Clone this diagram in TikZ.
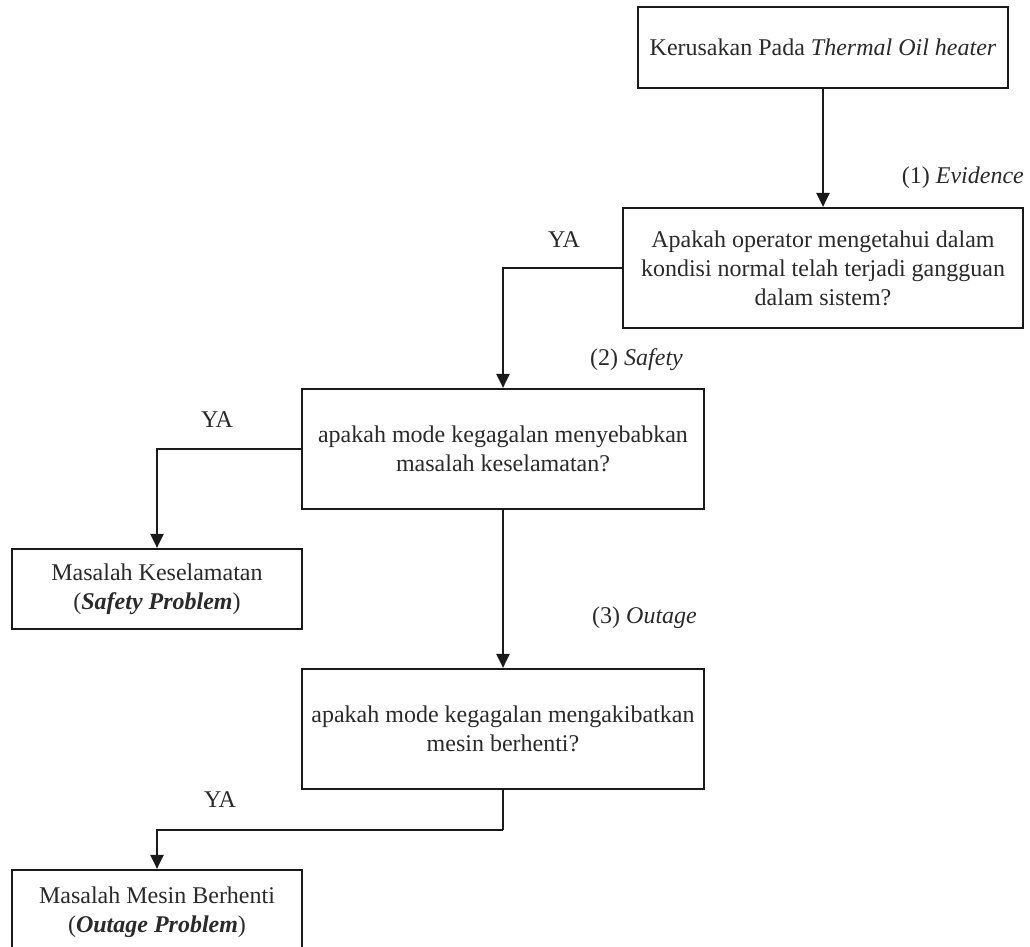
\documentclass[tikz,border=0pt]{standalone}
\usepackage{fontspec}
\setmainfont{Liberation Serif}
\usetikzlibrary{arrows.meta}
\definecolor{ink}{HTML}{1A1A1A}
\definecolor{txt}{HTML}{2A2A2A}
\begin{document}
\begin{tikzpicture}[x=1pt,y=-1pt,
  every node/.style={text=txt,font=\fontsize{24}{29}\selectfont},
  box/.style={draw=ink,line width=2.2pt,rectangle,inner sep=0pt,align=center},
  lbl/.style={inner sep=0pt},
  arr/.style={draw=ink,line width=2.2pt,-{Triangle[length=14pt,width=13pt]}},
  link/.style={draw=ink,line width=2.2pt}]
\clip (0,0) rectangle (1030,947);
\fill[white] (0,0) rectangle (1030,947);

% decision chain
\node[box,minimum width=370pt,minimum height=81pt] (b1) at (823,47.5)
  {Kerusakan Pada \textit{Thermal Oil heater}};
\node[box,minimum width=400pt,minimum height=120pt] (b2) at (823,268)
  {Apakah operator mengetahui dalam\\kondisi normal telah terjadi gangguan\\dalam sistem?};
\node[box,minimum width=402pt,minimum height=120pt] (b3) at (503,449)
  {apakah mode kegagalan menyebabkan\\masalah keselamatan?};
\node[box,minimum width=402pt,minimum height=120pt] (b4) at (503,729)
  {apakah mode kegagalan mengakibatkan\\mesin berhenti?};

% outcomes
\node[box,minimum width=290pt,minimum height=80pt] (sp) at (157,589)
  {Masalah Keselamatan\\(\textit{\textbf{Safety Problem}})};
\node[box,minimum width=290pt,minimum height=84pt] (op) at (157,912)
  {Masalah Mesin Berhenti\\(\textit{\textbf{Outage Problem}})};

% connectors
\coordinate (j4) at (503,830);
\draw[arr] (b1.south) -- (b2.north);
\draw[arr] (b2.west) -| (b3.north);
\draw[arr] (b3.west) -| (sp.north);
\draw[arr] (b3.south) -- (b4.north);
\draw[link] (b4.south) -- (j4);
\draw[arr] (j4) -| (op.north);

% labels
\node[lbl,anchor=east] (l1) at (1024,178) {(1) \textit{Evidence}};
\node[lbl] (y1) at (564,240) {YA};
\node[lbl,anchor=west] (l2) at (590,360) {(2) \textit{Safety}};
\node[lbl] (y2) at (217,420) {YA};
\node[lbl,anchor=west] (l3) at (592,618) {(3) \textit{Outage}};
\node[lbl] (y3) at (220,800) {YA};
\end{tikzpicture}
\end{document}
